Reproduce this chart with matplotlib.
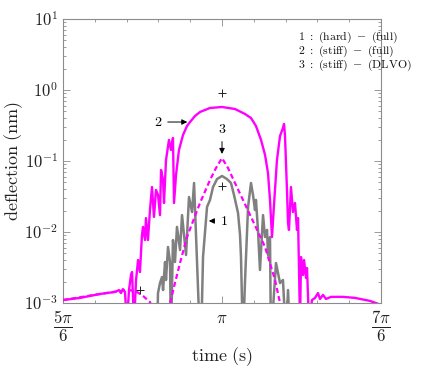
import numpy as np
import matplotlib
matplotlib.use("Agg")
import matplotlib.pyplot as plt
from matplotlib.ticker import FixedLocator, LogLocator, NullFormatter, MultipleLocator

plt.rcParams['mathtext.fontset'] = 'cm'

# time values given as multiples of pi, deflection in nm
# curve 2 : (stiff) - (full)
t2 = [0.8333, 0.8512, 0.8721, 0.8878, 0.8920, 0.8941, 0.8962, 0.8983, 0.9004, 0.9025,
      0.9046, 0.9057, 0.9078, 0.9099, 0.9120, 0.9140, 0.9161, 0.9172, 0.9193, 0.9203,
      0.9224, 0.9245, 0.9266, 0.9287, 0.9308, 0.9329, 0.9350, 0.9361, 0.9382, 0.9392,
      0.9413, 0.9444, 0.9465, 0.9486, 0.9497, 0.9518, 0.9549, 0.9591, 0.9633, 0.9665,
      0.9717, 0.9769, 0.9874, 1.0000, 1.0136, 1.0241, 1.0304, 1.0356, 1.0409, 1.0451,
      1.0482, 1.0503, 1.0524, 1.0545, 1.0576, 1.0608, 1.0639, 1.0650, 1.0660, 1.0681,
      1.0692, 1.0702, 1.0723, 1.0744, 1.0765, 1.0786, 1.0797, 1.0818, 1.0828, 1.0849,
      1.0860, 1.0881, 1.0891, 1.0912, 1.0943, 1.0975, 1.1006, 1.1027, 1.1059, 1.1090,
      1.1143, 1.1268, 1.1394, 1.1551, 1.1667]
d2 = [1.10e-3, 1.18e-3, 1.34e-3, 1.43e-3, 1.52e-3, 1.38e-3, 1.57e-3, 1.43e-3, 5e-4, 1.52e-3,
      2.48e-3, 2.73e-3, 5e-4, 2.11e-3, 4.03e-3, 2.73e-3, 9.08e-3, 1.18e-2, 7.7e-3, 1.57e-2,
      7.7e-3, 2.04e-2, 4.30e-2, 1.63e-2, 3.91e-2, 3.32e-2, 1.73e-2, 7.47e-2, 5.39e-2, 2.56e-2,
      0.103, 0.198, 0.143, 0.211, 0.0256, 0.0635, 0.143, 0.232, 0.311, 0.354,
      0.430, 0.490, 0.558, 0.576, 0.540, 0.459, 0.403, 0.311, 0.198, 0.122,
      0.0678, 0.0283, 0.0085, 0.0240, 0.103, 0.225, 0.292, 0.332, 0.232, 0.0391,
      0.0134, 0.0107, 0.0430, 0.0191, 0.0256, 0.0107, 0.0157, 5e-4, 4.44e-3, 2.48e-3,
      4.03e-3, 2.25e-3, 3.11e-3, 5e-4, 1.10e-3, 1.18e-3, 1.38e-3, 1.14e-3, 1.30e-3, 1.14e-3,
      1.22e-3, 1.22e-3, 1.18e-3, 1.07e-3, 9.4e-4]

# curve 1 : (hard) - (full)
t1 = [0.9319, 0.9329, 0.9350, 0.9371, 0.9382, 0.9403, 0.9413, 0.9434, 0.9455, 0.9465,
      0.9486, 0.9507, 0.9528, 0.9560, 0.9581, 0.9623, 0.9654, 0.9686, 0.9707, 0.9769,
      0.9790, 0.9801, 0.9822, 0.9843, 0.9874, 0.9906, 0.9948, 1.0000, 1.0052, 1.0094,
      1.0126, 1.0168, 1.0189, 1.0199, 1.0210, 1.0220, 1.0241, 1.0273, 1.0304, 1.0325,
      1.0346, 1.0356, 1.0377, 1.0398, 1.0430, 1.0451, 1.0472, 1.0482, 1.0503, 1.0513,
      1.0566, 1.0608, 1.0639, 1.0671, 1.0692, 1.0713]
d1 = [3e-4, 1.38e-3, 1.91e-3, 2.32e-3, 1.52e-3, 3.78e-3, 2.11e-3, 6.15e-3, 3.78e-3, 3e-4,
      7.7e-3, 3.78e-3, 1.18e-2, 5.57e-3, 1.73e-2, 4.74e-3, 3.11e-2, 1.91e-2, 4.90e-2, 3e-4,
      1.0e-3, 4.44e-3, 1.0e-2, 2.25e-2, 2.83e-2, 4.30e-2, 5.57e-2, 6.15e-2, 5.57e-2, 4.90e-2,
      3.32e-2, 1.85e-2, 9.08e-3, 4.44e-3, 1.0e-3, 3e-4, 2.0e-3, 2.25e-2, 4.90e-2, 3.32e-2,
      2.04e-2, 2.83e-2, 1.07e-2, 2.92e-3, 1.73e-2, 8.5e-3, 1.07e-2, 4.74e-3, 8.5e-3, 3e-4,
      3.66e-3, 1.91e-3, 2.11e-3, 3e-4, 1.52e-3, 3e-4]

# curve 3 : (stiff) - (DLVO)
t3a = [0.8333, 0.8721, 0.8931, 0.9036, 0.9109, 0.9172, 0.9245, 0.9298]
d3a = [1.10e-3, 1.34e-3, 1.48e-3, 1.52e-3, 1.43e-3, 1.26e-3, 1.03e-3, 6e-4]
t3b = [0.9413, 0.9455, 0.9507, 0.9560, 0.9633, 0.9769, 0.9874, 0.9937, 1.0000,
       1.0063, 1.0136, 1.0304, 1.0451, 1.0556, 1.0608, 1.0639]
d3b = [6e-4, 1.0e-3, 1.91e-3, 3.66e-3, 8.5e-3, 2.56e-2, 5.39e-2, 7.97e-2, 0.110,
       7.97e-2, 4.90e-2, 1.63e-2, 6.15e-3, 2.11e-3, 1.0e-3, 6e-4]

# the "+" markers
tp = [1.0, 1.0, 0.9140]
dp = [0.908, 0.0445, 1.52e-3]

pi = np.pi
frame = '#8c8c8c'

fig = plt.figure(figsize=(4.24, 3.82), dpi=100)
ax = fig.add_axes([0.1486, 0.2068, 0.75, 0.7435])

ax.plot(np.array(t1) * pi, d1, color='#808080', lw=1.8, zorder=2)
ax.plot(np.array(t2) * pi, d2, color='#ff00ff', lw=1.7, zorder=3)
ax.plot(np.array(t3a) * pi, d3a, color='#ff00ff', lw=1.6, dashes=[2.3, 1.4], zorder=4)
ax.plot(np.array(t3b) * pi, d3b, color='#ff00ff', lw=1.6, dashes=[2.3, 1.4], zorder=4)
ax.plot(np.array(tp) * pi, dp, ls='none', marker='+', ms=6, mew=0.7, color='#222222', zorder=5)

ax.set_yscale('log')
ax.set_xlim(5 * pi / 6, 7 * pi / 6)
ax.set_ylim(1e-3, 1e1)

ax.xaxis.set_major_locator(FixedLocator([5 * pi / 6, pi, 7 * pi / 6]))
ax.set_xticklabels([r'$\dfrac{5\pi}{6}$', r'$\pi$', r'$\dfrac{7\pi}{6}$'])
ax.xaxis.set_minor_locator(MultipleLocator(pi / 30))
ax.yaxis.set_major_locator(FixedLocator([1e-3, 1e-2, 1e-1, 1e0, 1e1]))
ax.set_yticklabels([r'$10^{-3}$', r'$10^{-2}$', r'$10^{-1}$', r'$10^{0}$', r'$10^{1}$'])
ax.yaxis.set_minor_locator(LogLocator(base=10, subs=np.arange(2, 10)))
ax.yaxis.set_minor_formatter(NullFormatter())

for s in ax.spines.values():
    s.set_color(frame)
    s.set_linewidth(0.8)
ax.tick_params(which='both', direction='in', top=True, right=True, color=frame, width=0.6)
ax.tick_params(which='major', length=5, labelsize=12, labelcolor='#222222')
ax.tick_params(which='minor', length=2.5)
ax.tick_params(axis='x', which='major', pad=4)

ax.set_xlabel(r'$\mathrm{time\ (s)}$', fontsize=13, color='#222222', labelpad=1)
ax.set_ylabel(r'$\mathrm{deflection\ (nm)}$', fontsize=13, color='#222222')
ax.yaxis.set_label_coords(-0.118, 0.5)

legend_lines = [r'$1\ :\ \mathrm{(hard)}\ -\ \mathrm{(full)}$',
                r'$2\ :\ \mathrm{(stiff)}\ -\ \mathrm{(full)}$',
                r'$3\ :\ \mathrm{(stiff)}\ -\ \mathrm{(DLVO)}$']
for i, s in enumerate(legend_lines):
    ax.text(0.74, 0.935 - i * 0.05, s, transform=ax.transAxes, fontsize=8.5,
            color='#111111', va='center', ha='left')

arr = dict(arrowstyle='-|>', color='black', lw=0.7, mutation_scale=8)
ax.annotate(r'$2$', xy=(0.9665 * pi, 0.354), xytext=(0.9329 * pi, 0.354),
            fontsize=10, ha='center', va='center', arrowprops=arr)
ax.annotate(r'$3$', xy=(1.0 * pi, 0.115), xytext=(1.0 * pi, 0.282),
            fontsize=10, ha='center', va='center', arrowprops=arr)
ax.annotate(r'$1$', xy=(0.9833 * pi, 0.0143), xytext=(1.0021 * pi, 0.0143),
            fontsize=10, ha='center', va='center', arrowprops=arr)

fig.savefig('out.png', dpi=100)
